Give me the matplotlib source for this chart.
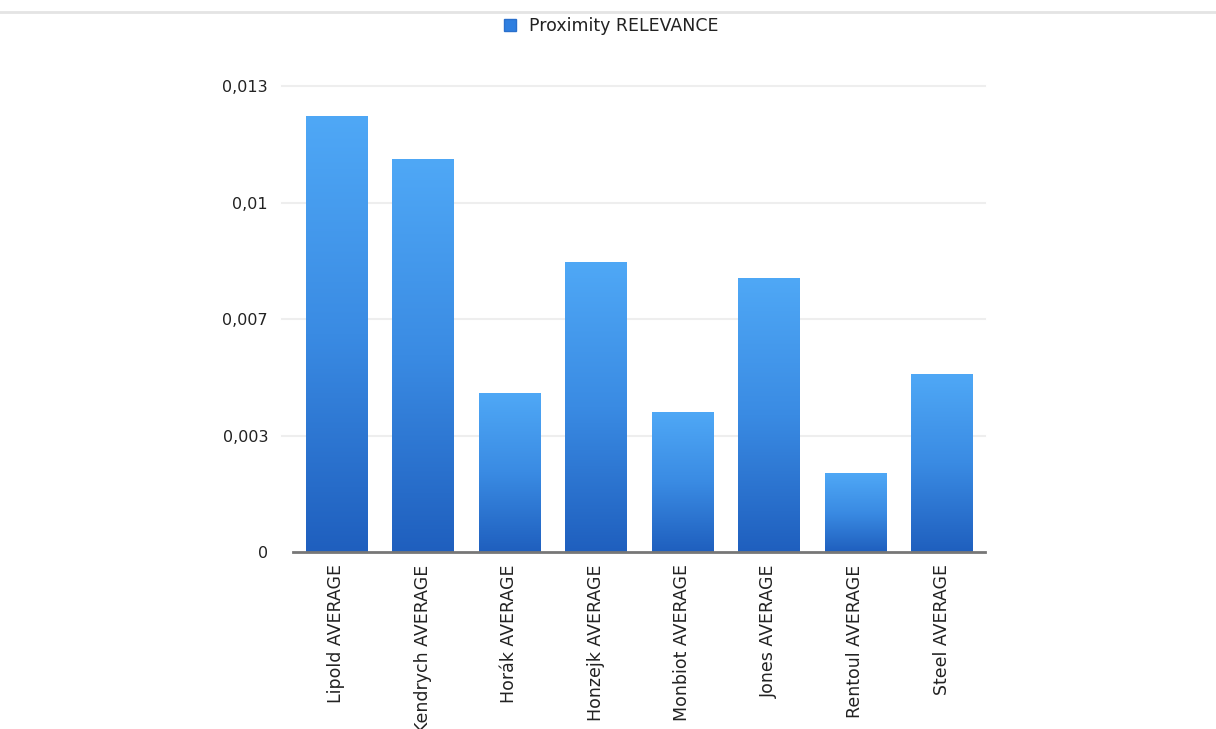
import numpy as np
import matplotlib
matplotlib.use("Agg")
import matplotlib.pyplot as plt
from matplotlib.colors import LinearSegmentedColormap
from matplotlib.patches import Patch
from matplotlib.lines import Line2D

# Data
names = ["Lipold AVERAGE", "Kendrych AVERAGE", "Horák AVERAGE", "Honzejk AVERAGE",
         "Monbiot AVERAGE", "Jones AVERAGE", "Rentoul AVERAGE", "Steel AVERAGE"]
relevance = [0.01216, 0.01096, 0.00443, 0.00809, 0.00388, 0.00762, 0.00218, 0.00494]
series_name = "Proximity RELEVANCE"
y_ticks = [0, 0.00325, 0.0065, 0.00975, 0.013]
y_tick_labels = ["0", "0,003", "0,007", "0,01", "0,013"]

plt.rcParams['font.family'] = ['DejaVu Sans']

fig = plt.figure(figsize=(12.16, 7.29), dpi=100)
ax = fig.add_axes([0.241, 0.2428, 0.569, 0.639])

# vertical gradient from light blue (top) to deep blue (bottom)
grad_cmap = LinearSegmentedColormap.from_list("barfill", ["#1f5fbe", "#3a8be3", "#4fa8f6"])
gradient = np.linspace(0, 1, 256).reshape(-1, 1)

x = np.arange(len(names))
bars = ax.bar(x, relevance, width=0.71, color="none", edgecolor="none", zorder=2)
for b in bars:
    x0, y0 = b.get_x(), b.get_y()
    w, h = b.get_width(), b.get_height()
    ax.imshow(gradient, cmap=grad_cmap, origin="lower", aspect="auto",
              extent=[x0, x0 + w, y0, y0 + h], zorder=2, interpolation="bicubic")

ax.set_xlim(-0.5, len(names) - 0.5)
ax.set_ylim(0, 0.013)
ax.set_yticks(y_ticks)
ax.set_yticklabels(y_tick_labels)
ax.set_xticks(x)
ax.set_xticklabels(names, rotation=90, va="top", ha="center", fontsize=12.5)

# light horizontal guides, reaching slightly left of the plot area
for t in y_ticks[1:]:
    ax.axhline(t, xmin=-0.016, xmax=1, color="#eeeeee", linewidth=1.5,
               zorder=0, clip_on=False)

for side in ["top", "right", "left"]:
    ax.spines[side].set_visible(False)
ax.spines["bottom"].set_color("#777777")
ax.spines["bottom"].set_linewidth(2)
ax.spines["bottom"].set_zorder(3)
ax.tick_params(axis="both", length=0, colors="#222222")
ax.tick_params(axis="y", pad=18, labelsize=11.5)
ax.tick_params(axis="x", pad=9)

# legend at the top
handle = Patch(facecolor="#2f7fe0", edgecolor="#2a70cc")
fig.legend([handle], [series_name], loc="center", bbox_to_anchor=(0.503, 1 - 26 / 729),
           frameon=False, fontsize=12.5, handlelength=0.65, handleheight=0.65,
           handletextpad=0.8, labelcolor="#222222")

# thin separator line across the top
fig.add_artist(Line2D([0, 1], [1 - 12 / 729, 1 - 12 / 729], transform=fig.transFigure,
                      color="#e4e4e4", linewidth=2))

fig.savefig("out.png", dpi=100)
